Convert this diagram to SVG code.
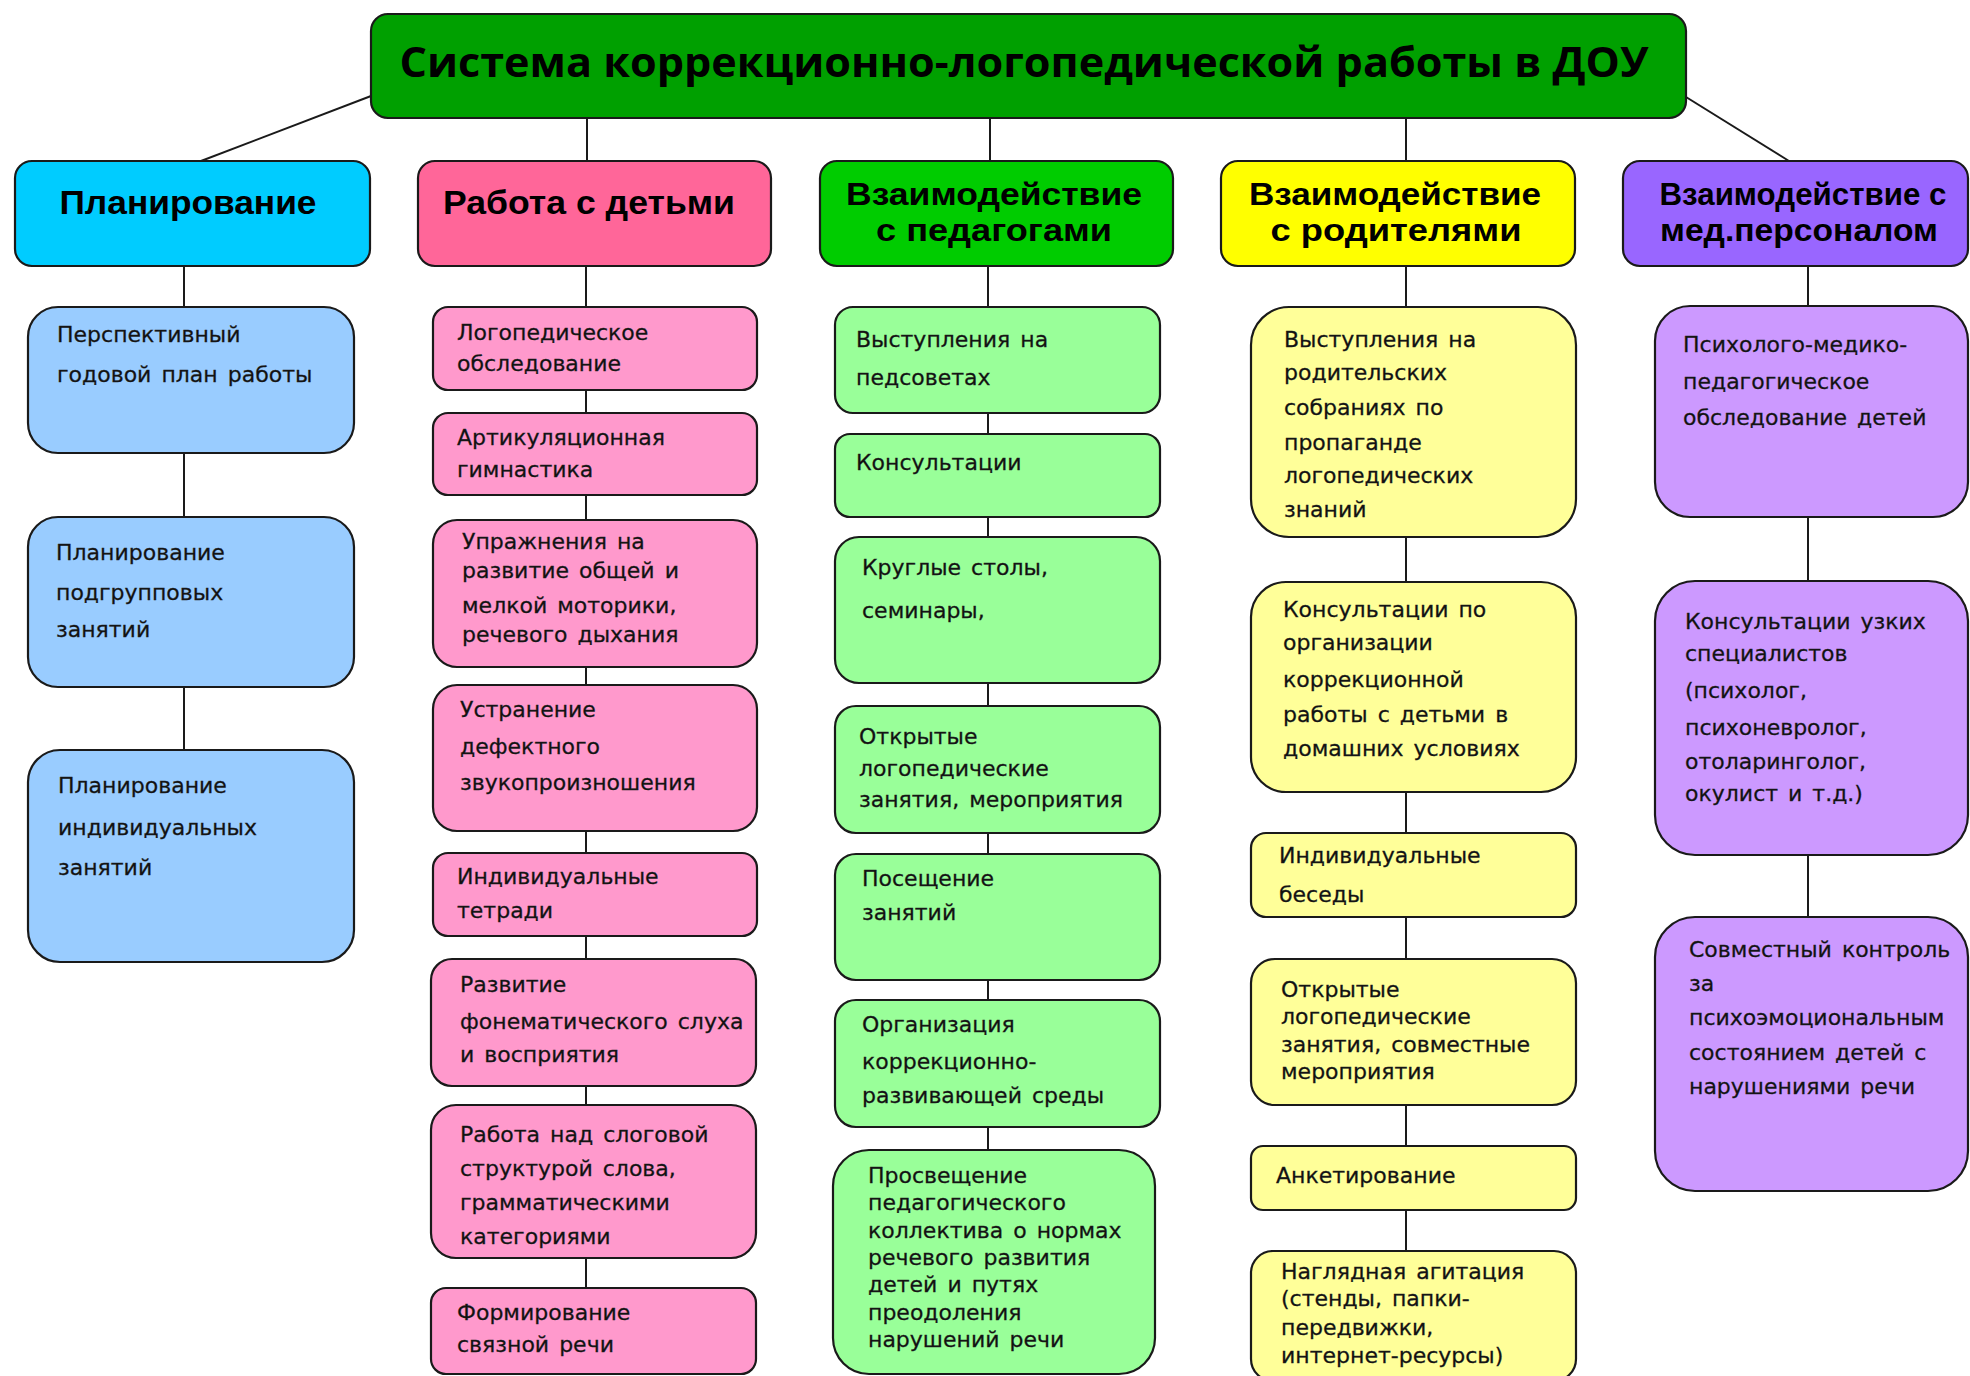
<svg xmlns="http://www.w3.org/2000/svg" width="1970" height="1376" viewBox="0 0 1970 1376">
<style>
.box{stroke:#1a1a1a;stroke-width:2.2}
.hd{font-family:"Liberation Sans","DejaVu Sans",sans-serif;font-weight:bold;font-size:32px;fill:#000;text-anchor:middle}
.h1{font-size:34px}
.tt{font-family:"Open Sans","DejaVu Sans",sans-serif;font-weight:bold;font-size:42px;fill:#000;text-anchor:middle}
.tx{font-family:"DejaVu Sans","Liberation Sans",sans-serif;font-size:22px;fill:#111;stroke:#222;stroke-width:0.3;word-spacing:3px}
.ln{stroke:#1a1a1a;stroke-width:2;fill:none}
.c1{fill:#99CCFF}.c2{fill:#FF99CC}.c3{fill:#99FF99}.c4{fill:#FFFF99}.c5{fill:#CC99FF}
</style>
<rect width="1970" height="1376" fill="#fff"/>
<g id="connectors">
<line class="ln" x1="371" y1="96" x2="201" y2="161"/>
<line class="ln" x1="587" y1="118" x2="587" y2="161"/>
<line class="ln" x1="990" y1="118" x2="990" y2="161"/>
<line class="ln" x1="1406" y1="118" x2="1406" y2="161"/>
<line class="ln" x1="1686" y1="97" x2="1789" y2="161"/>
<line class="ln" x1="184" y1="266" x2="184" y2="750"/>
<line class="ln" x1="586" y1="266" x2="586" y2="1288"/>
<line class="ln" x1="988" y1="266" x2="988" y2="1150"/>
<line class="ln" x1="1406" y1="266" x2="1406" y2="1251"/>
<line class="ln" x1="1808" y1="266" x2="1808" y2="917"/>
</g>
<g id="title">
<rect class="box" x="371" y="14" width="1315" height="104" rx="17" fill="#00A000"/>
<text class="tt" x="1024" y="77" textLength="1249" lengthAdjust="spacingAndGlyphs">Система коррекционно-логопедической работы в ДОУ</text>
</g>
<g id="h1"><rect class="box" x="15" y="161" width="355" height="105" rx="17" fill="#00CCFF"/>
<text class="hd h1" x="188" y="214" textLength="257" lengthAdjust="spacingAndGlyphs">Планирование</text></g>
<g id="h2"><rect class="box" x="418" y="161" width="353" height="105" rx="17" fill="#FF6699"/>
<text class="hd h1" x="589" y="214" textLength="292" lengthAdjust="spacingAndGlyphs">Работа с детьми</text></g>
<g id="h3"><rect class="box" x="820" y="161" width="353" height="105" rx="17" fill="#00CC00"/>
<text class="hd" x="994" y="205" textLength="296" lengthAdjust="spacingAndGlyphs">Взаимодействие</text>
<text class="hd" x="994" y="241" textLength="236" lengthAdjust="spacingAndGlyphs">с педагогами</text></g>
<g id="h4"><rect class="box" x="1221" y="161" width="354" height="105" rx="17" fill="#FFFF00"/>
<text class="hd" x="1395" y="205" textLength="292" lengthAdjust="spacingAndGlyphs">Взаимодействие</text>
<text class="hd" x="1396" y="241" textLength="251" lengthAdjust="spacingAndGlyphs">с родителями</text></g>
<g id="h5"><rect class="box" x="1623" y="161" width="345" height="105" rx="17" fill="#9966FF"/>
<text class="hd" x="1803" y="205" textLength="287" lengthAdjust="spacingAndGlyphs">Взаимодействие с</text>
<text class="hd" x="1799" y="241" textLength="278" lengthAdjust="spacingAndGlyphs">мед.персоналом</text></g>

<g id="plan1"><rect class="box c1" x="28" y="307" width="326" height="146" rx="30"/>
<text class="tx" x="57" y="342">Перспективный</text><text class="tx" x="57" y="382">годовой план работы</text></g>
<g id="plan2"><rect class="box c1" x="28" y="517" width="326" height="170" rx="30"/>
<text class="tx" x="56" y="560">Планирование</text><text class="tx" x="56" y="600">подгрупповых</text><text class="tx" x="56" y="637">занятий</text></g>
<g id="plan3"><rect class="box c1" x="28" y="750" width="326" height="212" rx="32"/>
<text class="tx" x="58" y="793">Планирование</text><text class="tx" x="58" y="835">индивидуальных</text><text class="tx" x="58" y="875">занятий</text></g>

<g id="kid1"><rect class="box c2" x="433" y="307" width="324" height="83" rx="15"/>
<text class="tx" x="457" y="340">Логопедическое</text><text class="tx" x="457" y="371">обследование</text></g>
<g id="kid2"><rect class="box c2" x="433" y="413" width="324" height="82" rx="15"/>
<text class="tx" x="457" y="445">Артикуляционная</text><text class="tx" x="457" y="477">гимнастика</text></g>
<g id="kid3"><rect class="box c2" x="433" y="520" width="324" height="147" rx="24"/>
<text class="tx" x="462" y="549">Упражнения на</text><text class="tx" x="462" y="578">развитие общей и</text><text class="tx" x="462" y="613">мелкой моторики,</text><text class="tx" x="462" y="642">речевого дыхания</text></g>
<g id="kid4"><rect class="box c2" x="433" y="685" width="324" height="146" rx="24"/>
<text class="tx" x="460" y="717">Устранение</text><text class="tx" x="460" y="754">дефектного</text><text class="tx" x="460" y="790">звукопроизношения</text></g>
<g id="kid5"><rect class="box c2" x="433" y="853" width="324" height="83" rx="15"/>
<text class="tx" x="457" y="884">Индивидуальные</text><text class="tx" x="457" y="918">тетради</text></g>
<g id="kid6"><rect class="box c2" x="431" y="959" width="325" height="127" rx="21"/>
<text class="tx" x="460" y="992">Развитие</text><text class="tx" x="460" y="1029">фонематического слуха</text><text class="tx" x="460" y="1062">и восприятия</text></g>
<g id="kid7"><rect class="box c2" x="431" y="1105" width="325" height="153" rx="25"/>
<text class="tx" x="460" y="1142">Работа над слоговой</text><text class="tx" x="460" y="1176">структурой слова,</text><text class="tx" x="460" y="1210">грамматическими</text><text class="tx" x="460" y="1244">категориями</text></g>
<g id="kid8"><rect class="box c2" x="431" y="1288" width="325" height="86" rx="15"/>
<text class="tx" x="457" y="1320">Формирование</text><text class="tx" x="457" y="1352">связной речи</text></g>

<g id="ped1"><rect class="box c3" x="835" y="307" width="325" height="106" rx="18"/>
<text class="tx" x="856" y="347">Выступления на</text><text class="tx" x="856" y="385">педсоветах</text></g>
<g id="ped2"><rect class="box c3" x="835" y="434" width="325" height="83" rx="15"/>
<text class="tx" x="856" y="470">Консультации</text></g>
<g id="ped3"><rect class="box c3" x="835" y="537" width="325" height="146" rx="24"/>
<text class="tx" x="862" y="575">Круглые столы,</text><text class="tx" x="862" y="618">семинары,</text></g>
<g id="ped4"><rect class="box c3" x="835" y="706" width="325" height="127" rx="21"/>
<text class="tx" x="859" y="744">Открытые</text><text class="tx" x="859" y="776">логопедические</text><text class="tx" x="859" y="807">занятия, мероприятия</text></g>
<g id="ped5"><rect class="box c3" x="835" y="854" width="325" height="126" rx="21"/>
<text class="tx" x="862" y="886">Посещение</text><text class="tx" x="862" y="920">занятий</text></g>
<g id="ped6"><rect class="box c3" x="835" y="1000" width="325" height="127" rx="21"/>
<text class="tx" x="862" y="1032">Организация</text><text class="tx" x="862" y="1069">коррекционно-</text><text class="tx" x="862" y="1103">развивающей среды</text></g>
<g id="ped7"><rect class="box c3" x="833" y="1150" width="322" height="224" rx="36"/>
<text class="tx" x="868" y="1183">Просвещение</text><text class="tx" x="868" y="1210">педагогического</text><text class="tx" x="868" y="1238">коллектива о нормах</text><text class="tx" x="868" y="1265">речевого развития</text><text class="tx" x="868" y="1292">детей и путях</text><text class="tx" x="868" y="1320">преодоления</text><text class="tx" x="868" y="1347">нарушений речи</text></g>

<g id="par1"><rect class="box c4" x="1251" y="307" width="325" height="230" rx="38"/>
<text class="tx" x="1284" y="347">Выступления на</text><text class="tx" x="1284" y="380">родительских</text><text class="tx" x="1284" y="415">собраниях по</text><text class="tx" x="1284" y="450">пропаганде</text><text class="tx" x="1284" y="483">логопедических</text><text class="tx" x="1284" y="517">знаний</text></g>
<g id="par2"><rect class="box c4" x="1251" y="582" width="325" height="210" rx="35"/>
<text class="tx" x="1283" y="617">Консультации по</text><text class="tx" x="1283" y="650">организации</text><text class="tx" x="1283" y="687">коррекционной</text><text class="tx" x="1283" y="722">работы с детьми в</text><text class="tx" x="1283" y="756">домашних условиях</text></g>
<g id="par3"><rect class="box c4" x="1251" y="833" width="325" height="84" rx="15"/>
<text class="tx" x="1279" y="863">Индивидуальные</text><text class="tx" x="1279" y="902">беседы</text></g>
<g id="par4"><rect class="box c4" x="1251" y="959" width="325" height="146" rx="24"/>
<text class="tx" x="1281" y="997">Открытые</text><text class="tx" x="1281" y="1024">логопедические</text><text class="tx" x="1281" y="1052">занятия, совместные</text><text class="tx" x="1281" y="1079">мероприятия</text></g>
<g id="par5"><rect class="box c4" x="1251" y="1146" width="325" height="64" rx="12"/>
<text class="tx" x="1276" y="1183">Анкетирование</text></g>
<g id="par6"><rect class="box c4" x="1251" y="1251" width="325" height="130" rx="22"/>
<text class="tx" x="1281" y="1279">Наглядная агитация</text><text class="tx" x="1281" y="1306">(стенды, папки-</text><text class="tx" x="1281" y="1335">передвижки,</text><text class="tx" x="1281" y="1363">интернет-ресурсы)</text></g>

<g id="med1"><rect class="box c5" x="1655" y="306" width="313" height="211" rx="35"/>
<text class="tx" x="1683" y="352">Психолого-медико-</text><text class="tx" x="1683" y="389">педагогическое</text><text class="tx" x="1683" y="425">обследование детей</text></g>
<g id="med2"><rect class="box c5" x="1655" y="581" width="313" height="274" rx="40"/>
<text class="tx" x="1685" y="629">Консультации узких</text><text class="tx" x="1685" y="661">специалистов</text><text class="tx" x="1685" y="698">(психолог,</text><text class="tx" x="1685" y="735">психоневролог,</text><text class="tx" x="1685" y="769">отоларинголог,</text><text class="tx" x="1685" y="801">окулист и т.д.)</text></g>
<g id="med3"><rect class="box c5" x="1655" y="917" width="313" height="274" rx="40"/>
<text class="tx" x="1689" y="957">Совместный контроль</text><text class="tx" x="1689" y="991">за</text><text class="tx" x="1689" y="1025">психоэмоциональным</text><text class="tx" x="1689" y="1060">состоянием детей с</text><text class="tx" x="1689" y="1094">нарушениями речи</text></g>
</svg>
